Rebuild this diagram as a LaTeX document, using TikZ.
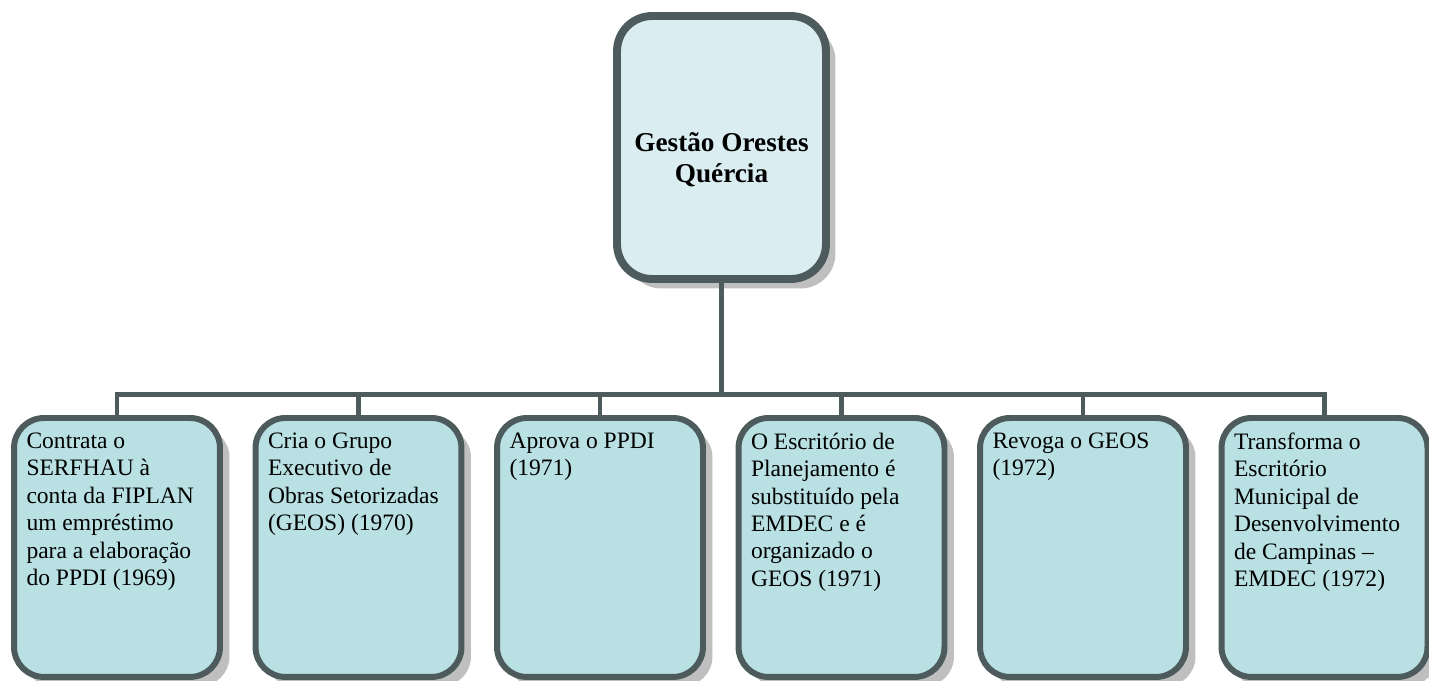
\documentclass[tikz,border=0pt]{standalone}
\usepackage{fontspec}
\setmainfont{Liberation Serif}
\usetikzlibrary{shadows}
\definecolor{boxline}{HTML}{4D5B5C}
\definecolor{topfill}{HTML}{DAEEF1}
\definecolor{leaffill}{HTML}{B9E0E3}
\tikzset{
  boxshadow/.style={drop shadow={shadow xshift=0.19cm, shadow yshift=-0.19cm, fill=gray!50, opacity=1}},
  chief/.style={draw=boxline, line width=4.5pt, fill=topfill, rounded corners=0.7cm,
    minimum width=4.18cm, minimum height=5.26cm, inner sep=0pt,
    font=\fontsize{15.5}{18}\selectfont\bfseries, boxshadow},
  leaf/.style={draw=boxline, line width=3.4pt, fill=leaffill, rounded corners=0.6cm,
    minimum width=4.12cm, minimum height=5.18cm, inner xsep=0.25cm, inner ysep=0.3cm,
    anchor=north, font=\fontsize{13.4}{15.6}\selectfont, boxshadow},
  conn/.style={draw=boxline, line width=2.8pt}
}
\newcommand{\leaftext}[1]{\parbox[c][4.58cm][t]{3.62cm}{\raggedright #1}}
\begin{document}
\begin{tikzpicture}[x=0.02cm, y=-0.02cm]
    \useasboundingbox (0,0) rectangle (1429,680);
    % chefe
    \node[chief] (top) at (721.5,147.5) {\raisebox{-10.5pt}[0pt][0pt]{\parbox{4cm}{\centering Gestão Orestes\\Quércia}}};
    % ligacoes
    \foreach \i/\x in {1/117, 2/358.5, 3/600, 4/841.5, 5/1083, 6/1324.5}
        \coordinate (c\i) at (\x,415);
    \foreach \i in {1,...,6}
        \draw[conn] (top.south) -- ++(0,112) -| (c\i);
    % acoes
    \node[leaf] (b1) at (c1) {\leaftext{Contrata o\\SERFHAU à\\conta da FIPLAN\\um empréstimo\\para a elaboração\\do PPDI (1969)}};
    \node[leaf] (b2) at (c2) {\leaftext{Cria o Grupo\\Executivo de\\Obras Setorizadas\\(GEOS) (1970)}};
    \node[leaf] (b3) at (c3) {\leaftext{Aprova o PPDI\\(1971)}};
    \node[leaf] (b4) at (c4) {\leaftext{O Escritório de\\Planejamento é\\substituído pela\\EMDEC e é\\organizado o\\GEOS (1971)}};
    \node[leaf] (b5) at (c5) {\leaftext{Revoga o GEOS\\(1972)}};
    \node[leaf] (b6) at (c6) {\leaftext{Transforma o\\Escritório\\Municipal de\\Desenvolvimento\\de Campinas --\\EMDEC (1972)}};
\end{tikzpicture}
\end{document}
